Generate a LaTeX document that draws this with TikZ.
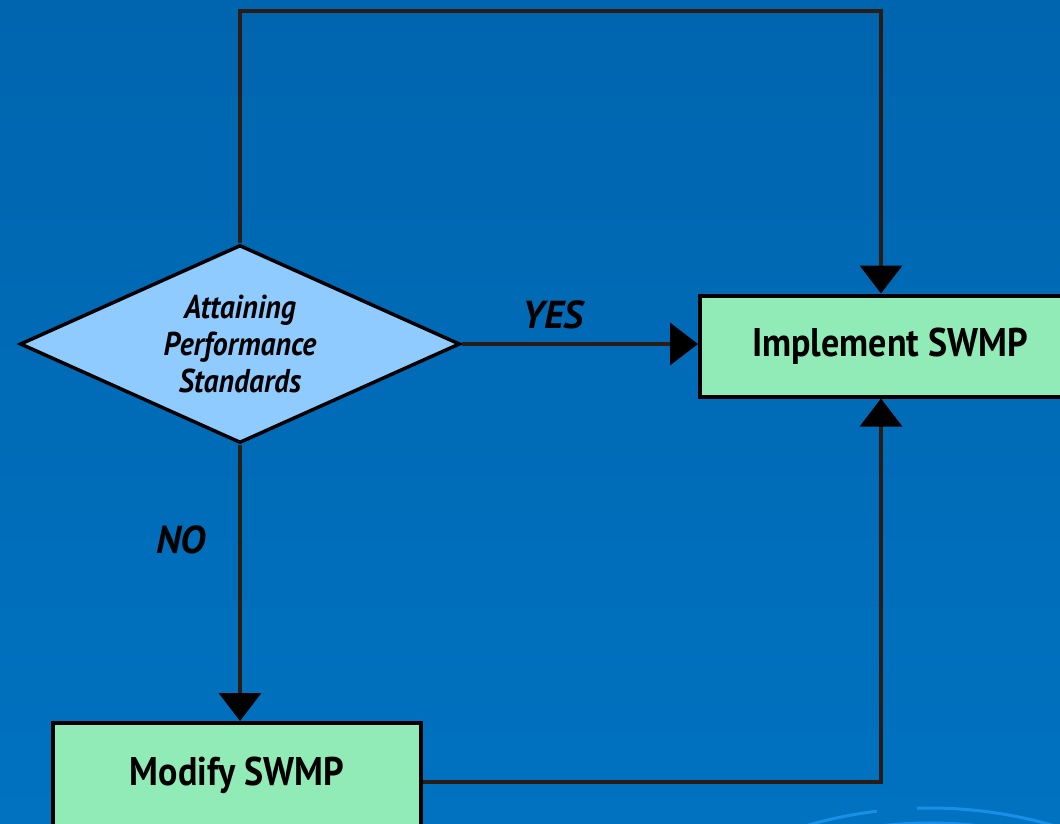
\documentclass[tikz,border=0pt]{standalone}
\usepackage{fontspec}
\setmainfont{PT Sans}
\newfontfamily\boxfont[FakeStretch=0.9]{PT Sans}
\usetikzlibrary{shapes.geometric,arrows.meta}
\definecolor{bgtop}{HTML}{0065AF}
\definecolor{bgbot}{HTML}{0072C0}
\definecolor{boxfill}{HTML}{91EBB6}
\definecolor{diafill}{HTML}{8FCBFF}
\definecolor{linecol}{HTML}{2A1C16}
\definecolor{arccol}{HTML}{1990E8}
\tikzset{
  stepbox/.style={draw=black, line width=4pt, fill=boxfill, rectangle, inner sep=0pt, font=\boxfont\bfseries\fontsize{40}{42}\selectfont},
  decision/.style={draw=black, line width=3.5pt, fill=diafill, diamond, aspect=2.2, inner sep=0pt, minimum width=440pt, minimum height=198pt, align=center, font=\boxfont\bfseries\itshape\fontsize{33}{37}\selectfont},
  conn/.style={draw=linecol, line width=3.5pt},
  arrowconn/.style={conn, -{Triangle[width=42pt,length=28pt,color=black]}},
  lbl/.style={font=\bfseries\itshape\fontsize{39}{40}\selectfont, text=black, inner sep=0pt}
}
\begin{document}
\begin{tikzpicture}[x=1pt,y=-1pt]
\useasboundingbox (0,0) rectangle (1060,824);
\clip (0,0) rectangle (1060,824);
\shade[top color=bgtop, bottom color=bgbot] (0,0) rectangle (1060,824);
% decorative arcs
\draw[arccol, line width=3pt] (930,1251) ++(200:443) arc[start angle=200, end angle=263.1, radius=443];
\draw[arccol, line width=3pt] (930,1251) ++(268.3:443) arc[start angle=268.3, end angle=340, radius=443];
\draw[arccol, line width=3pt] (930,1251) ++(220:428) arc[start angle=220, end angle=320, radius=428];
% nodes
\node[decision] (dia) at (240,344) {Attaining\\Performance\\Standards};
\node[stepbox, minimum width=380pt, minimum height=101pt] (impl) at (890,346) {Implement SWMP};
\node[stepbox, minimum width=368pt, minimum height=104pt] (mod) at (237,775) {Modify SWMP};
\coordinate (topright) at (881,11);
\coordinate (botright) at (881,782);
% connectors
\draw[arrowconn] (dia.north) |- (topright) -- (topright |- impl.north);
\draw[arrowconn] (dia.east) -- (dia.east -| impl.west);
\draw[arrowconn] (dia.south) -- (dia.south |- mod.north);
\draw[arrowconn] (mod.east |- botright) -- (botright) -- (botright |- impl.south);
% labels
\node[lbl] (yes) at (553,315) {YES};
\node[lbl] (no) at (181,540) {NO};
\end{tikzpicture}
\end{document}
